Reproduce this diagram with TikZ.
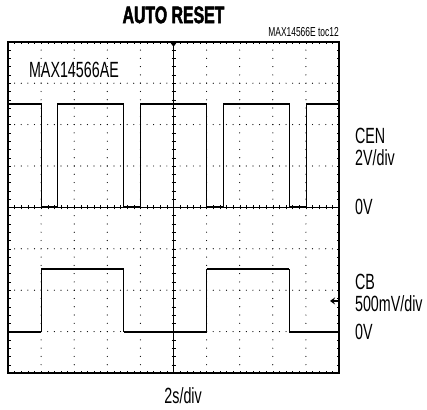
\documentclass[tikz,border=0pt]{standalone}
\usepackage{fontspec}
\setmainfont{Liberation Sans}[FakeStretch=0.65]
\newfontfamily\titlefont{Liberation Sans}[FakeStretch=0.66,BoldFeatures={FakeBold=2}]
\usetikzlibrary{arrows.meta}
\tikzset{
  trace/.style={line width=0.8pt},
  level/.style={line width=2pt},
  lbl/.style={inner sep=0pt,anchor=west,font=\fontsize{22}{24}\selectfont},
  dot/.style={fill=black},
}
\begin{document}
\begin{tikzpicture}[x=33.1pt,y=41.4pt]
  \useasboundingbox (-8pt,-36pt) rectangle (419pt,373pt);
  % dotted graticule
  \foreach \i in {1,...,9}
    \foreach \j in {1,...,39} \fill[dot] (\i,\j/5) circle (0.6pt);
  \foreach \j in {1,...,7}
    \foreach \i in {1,...,49} \fill[dot] (\i/5,\j) circle (0.6pt);
  % centre axes with ticks
  \draw[thin] (0,4) -- (10,4);
  \draw[thin] (5,0) -- (5,8);
  \foreach \i in {1,...,49} \draw[thin] (\i/5,4) ++(0,-2pt) -- ++(0,4pt);
  \foreach \j in {1,...,39} \draw[thin] (5,\j/5) ++(-2pt,0) -- ++(4pt,0);
  % border ticks
  \foreach \i in {1,...,49}{
    \draw[thin] (\i/5,0) -- ++(0,2.5pt);
    \draw[thin] (\i/5,8) -- ++(0,-2.5pt);
  }
  \foreach \j in {1,...,39}{
    \draw[thin] (0,\j/5) -- ++(2.5pt,0);
    \draw[thin] (10,\j/5) -- ++(-2.5pt,0);
  }
  \draw[line width=2.2pt] (0,0) rectangle (10,8);
  % markers
  \fill (5,8) ++(-3pt,-1pt) -- ++(6pt,0) -- ++(-3pt,-4pt) -- cycle;
  \draw[line width=1.2pt,-{Stealth[length=5pt,width=7pt]}] (10,1.74) -- ++(-9pt,0);
  % CEN trace
  \draw[trace] (0,6.5) -- (1,6.5) -- (1,4) -- (1.5,4) -- (1.5,6.5) -- (3.5,6.5) -- (3.5,4) -- (4,4) -- (4,6.5)
    -- (6,6.5) -- (6,4) -- (6.5,4) -- (6.5,6.5) -- (8.5,6.5) -- (8.5,4) -- (9,4) -- (9,6.5) -- (10,6.5);
  \foreach \a/\b/\y in {0/1/6.5,1/1.5/4,1.5/3.5/6.5,3.5/4/4,4/6/6.5,6/6.5/4,6.5/8.5/6.5,8.5/9/4,9/10/6.5}
    \draw[level] (\a,\y) -- (\b,\y);
  % CB trace
  \draw[trace] (0,1) -- (1,1) -- (1,2.5) -- (3.5,2.5) -- (3.5,1) -- (6,1) -- (6,2.5) -- (8.5,2.5) -- (8.5,1) -- (10,1);
  \foreach \a/\b/\y in {0/1/1,1/3.5/2.5,3.5/6/1,6/8.5/2.5,8.5/10/1}
    \draw[level] (\a,\y) -- (\b,\y);
  % texts
  \node[inner sep=0pt,font=\titlefont\fontsize{24}{26}\selectfont\bfseries] (title) at (5,8.65) {AUTO RESET};
  \node[inner sep=0pt,anchor=base east,font=\fontsize{13}{15}\selectfont] (toc) at (10,8.12) {MAX14566E toc12};
  \node[lbl] (part) at (0.63,7.33) {MAX14566AE};
  \node[lbl] (cen) at (10.48,5.73) {CEN};
  \node[lbl] (censcale) at (10.48,5.2) {2V/div};
  \node[lbl] (cenzero) at (10.48,4.0) {0V};
  \node[lbl] (cb) at (10.48,2.2) {CB};
  \node[lbl] (cbscale) at (10.48,1.67) {500mV/div};
  \node[lbl] (cbzero) at (10.48,1.0) {0V};
  \node[lbl,anchor=center] (time) at (5.29,-0.55) {2s/div};
\end{tikzpicture}
\end{document}
